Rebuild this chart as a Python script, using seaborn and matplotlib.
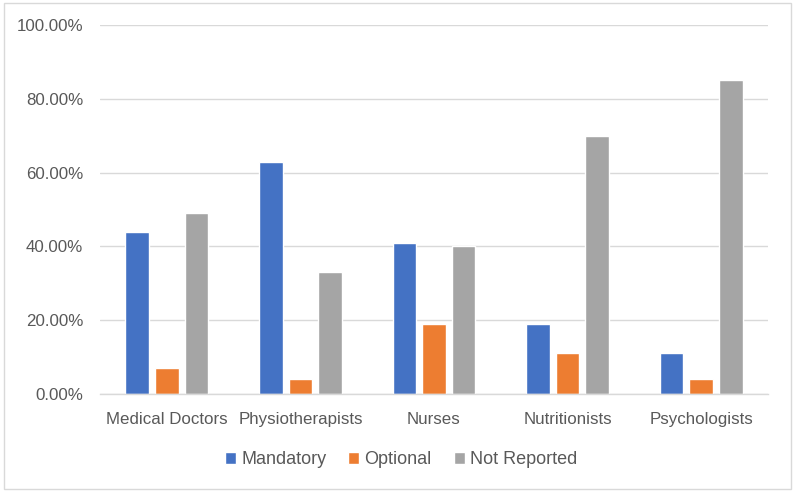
import numpy as np
import pandas as pd
import matplotlib
matplotlib.use("Agg")
import matplotlib.pyplot as plt
import seaborn as sns
from matplotlib.ticker import PercentFormatter
from matplotlib.patches import Rectangle

# Données (fractions)
professions = ["Medical Doctors", "Physiotherapists", "Nurses", "Nutritionists", "Psychologists"]
series = ["Mandatory", "Optional", "Not Reported"]
mandatory = [0.44, 0.63, 0.41, 0.19, 0.11]
optional = [0.07, 0.04, 0.19, 0.11, 0.04]
not_reported = [0.49, 0.33, 0.40, 0.70, 0.85]
couleurs = ["#4472C4", "#ED7D31", "#A5A5A5"]

df = pd.DataFrame({
    "profession": professions * 3,
    "type": [s for s in series for _ in professions],
    "valeur": mandatory + optional + not_reported,
})

sns.set_style("white")
plt.rcParams["font.family"] = ["Liberation Sans", "DejaVu Sans"]

fig = plt.figure(figsize=(7.96, 4.92), dpi=100)
ax = fig.add_axes([100 / 796, (492 - 394) / 492, 668 / 796, (394 - 25) / 492])

sns.barplot(data=df, x="profession", y="valeur", hue="type", order=professions,
            hue_order=series, palette=couleurs, width=0.665, gap=0.2,
            saturation=1, ax=ax, legend=True)

ax.set_ylim(0, 1)
ax.set_yticks(np.arange(0, 1.01, 0.2))
ax.yaxis.set_major_formatter(PercentFormatter(1, decimals=2))
ax.set_xlabel("")
ax.set_ylabel("")
ax.grid(axis="y", color="#D9D9D9", linewidth=1)
ax.set_axisbelow(True)
for s in ["top", "right", "left"]:
    ax.spines[s].set_visible(False)
ax.spines["bottom"].set_color("#D9D9D9")
ax.spines["bottom"].set_linewidth(1)
ax.tick_params(axis="both", length=0, labelsize=12.2, labelcolor="#595959")
ax.tick_params(axis="y", pad=12)
ax.tick_params(axis="x", pad=13)

handles, labels = ax.get_legend_handles_labels()
ax.get_legend().remove()
fig.legend(handles, labels, loc="center", bbox_to_anchor=(401 / 796, 1 - 460 / 492),
           ncol=3, frameon=False, fontsize=13, handlelength=0.62, handleheight=0.62,
           handletextpad=0.3, columnspacing=1.2, labelcolor="#595959")

fig.patches.append(Rectangle((4 / 796, 3 / 492), 787 / 796, 486 / 492, transform=fig.transFigure,
                             fill=False, edgecolor="#D9D9D9", linewidth=1))

fig.savefig("out.png", dpi=100)
